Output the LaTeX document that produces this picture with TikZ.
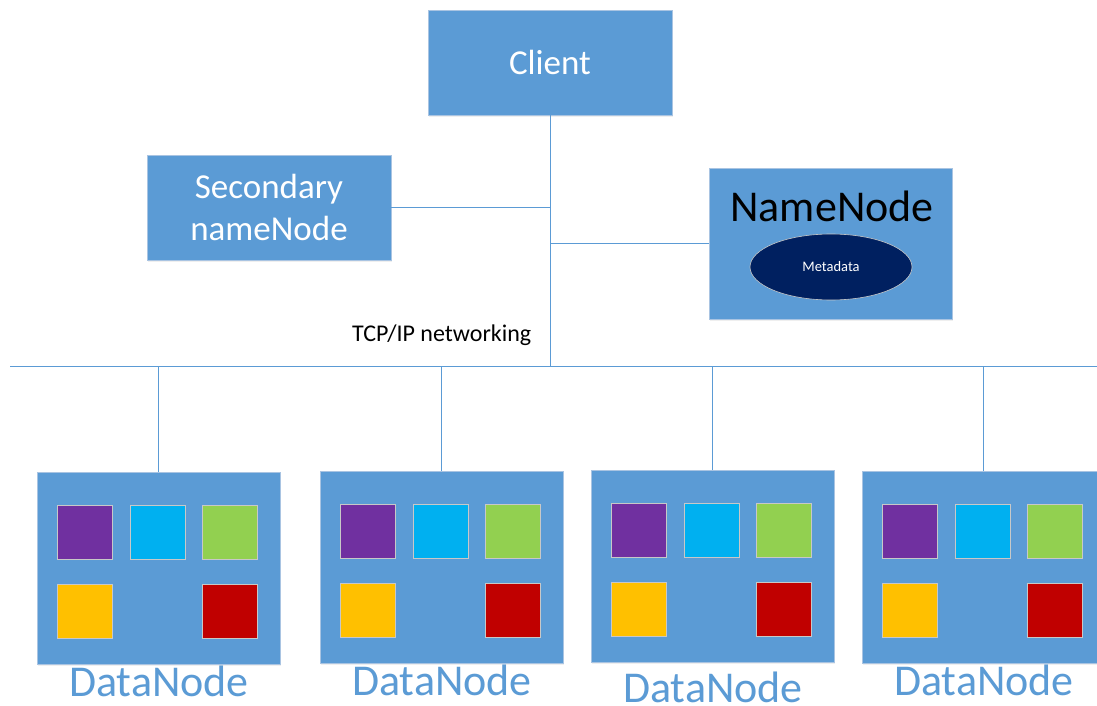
\documentclass[tikz,border=0pt]{standalone}
\usepackage{fontspec}
\setmainfont{Carlito}
\usetikzlibrary{shadows,shapes.geometric}
\definecolor{boxblue}{HTML}{5B9BD5}
\definecolor{boxedge}{HTML}{A9C4E2}
\definecolor{navy}{HTML}{002060}
\definecolor{cpurple}{HTML}{7030A0}
\definecolor{ccyan}{HTML}{00B0F0}
\definecolor{cgreen}{HTML}{92D050}
\definecolor{cyellow}{HTML}{FFC000}
\definecolor{cred}{HTML}{C00000}
\definecolor{sqedge}{HTML}{C8C8C8}
\tikzset{
  box/.style={draw=boxedge, line width=0.8pt, fill=boxblue, inner sep=0pt,
    drop shadow={opacity=0.12, shadow xshift=1pt, shadow yshift=-2pt}},
  link/.style={draw=boxblue, line width=1pt},
  block/.style={draw=sqedge, line width=0.6pt, minimum width=55pt, minimum height=54pt, inner sep=0pt},
  bigtext/.style={font=\fontsize{35}{42}\selectfont, text=white, align=center},
  dnlabel/.style={font=\fontsize{44}{50}\selectfont, text=boxblue, anchor=base, inner sep=0pt, text depth=0pt},
}
% one storage server: a box with five coloured blocks and its caption
\newcommand{\datanodebox}[4]{%
  \node[box, minimum width=243pt, minimum height=192pt, anchor=north west] (#1) at (#2,#3) {};
  \node[block, fill=cpurple, anchor=north west] (#1p) at ([shift={(20,33)}]#1.north west) {};
  \node[block, fill=ccyan,   anchor=north west] (#1c) at ([shift={(93,33)}]#1.north west) {};
  \node[block, fill=cgreen,  anchor=north west] (#1g) at ([shift={(165,33)}]#1.north west) {};
  \node[block, fill=cyellow, anchor=north west] (#1y) at ([shift={(20,112)}]#1.north west) {};
  \node[block, fill=cred,    anchor=north west] (#1r) at ([shift={(165,112)}]#1.north west) {};
  \node[dnlabel] (#1l) at ([shift={(0,#4)}]#1.south) {DataNode};
}
\begin{document}
\begin{tikzpicture}[x=1pt,y=-1pt]
\clip (0,0) rectangle (1097,706);
\fill[white] (0,0) rectangle (1097,706);

% network wiring
\coordinate (busL) at (10,366);
\coordinate (busR) at (1097,366);
\coordinate (hub) at (550,366);

% head nodes
\node[box, minimum width=244pt, minimum height=105pt] (client) at (550,62.5) {};
\node[bigtext] (clientT) at (client.center) {Client};

\node[box, minimum width=244pt, minimum height=105pt] (sec) at (269,207.5) {};
\node[bigtext] (secT) at (sec.center) {Secondary\\nameNode};

\node[box, minimum width=243pt, minimum height=151pt] (nn) at (830.5,243.5) {};
\node[font=\fontsize{44}{50}\selectfont, anchor=base, inner sep=0pt] (nnT) at (832,221) {NameNode};
\node[ellipse, draw=sqedge, line width=0.6pt, fill=navy, minimum width=162pt, minimum height=66pt,
      text=white, font=\fontsize{14.5}{17}\selectfont, inner sep=0pt] (meta) at (831,267) {Metadata};

\node[font=\fontsize{24}{28}\selectfont, anchor=base west, inner sep=0pt] (tcp) at (352,341) {TCP/IP networking};

% storage servers
\datanodebox{dn1}{37}{472}{32}
\datanodebox{dn2}{320}{471}{32}
\datanodebox{dn3}{591}{470}{40}
\datanodebox{dn4}{862}{471}{32}

% connectors
\draw[link] (client.south) -- (hub);
\draw[link] (sec.east) -- (sec.east -| client.south);
\draw[link] (nn.west) -- (nn.west -| client.south);
\draw[link] (busL) -- (busR);
\foreach \d in {dn1,dn2,dn3,dn4}
  \draw[link] (\d.north |- busL) -- (\d.north);
\end{tikzpicture}
\end{document}
